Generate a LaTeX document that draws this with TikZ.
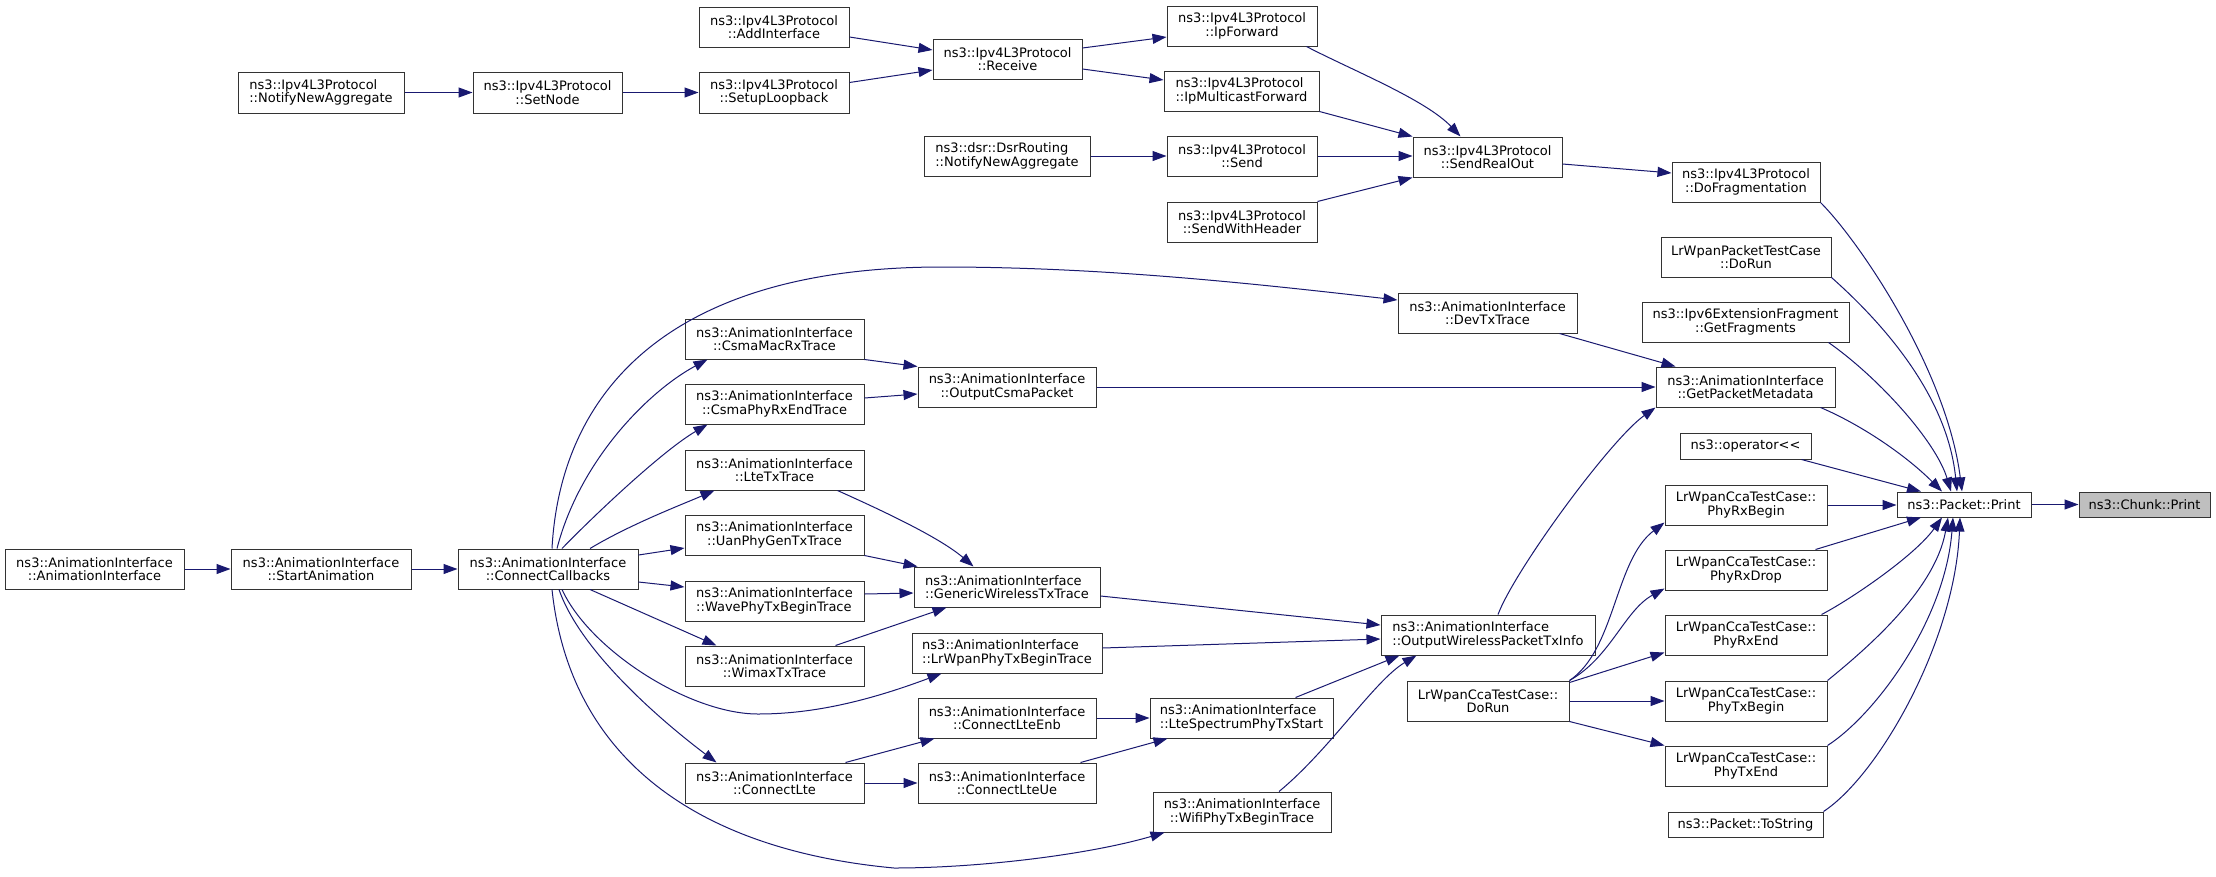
\documentclass[tikz,border=0pt]{standalone}
\usepackage{fontspec}
\setmainfont{DejaVu Sans}
\usetikzlibrary{arrows.meta}
\definecolor{edgecol}{HTML}{191970}
\definecolor{rootfill}{HTML}{BFBFBF}
\definecolor{boxline}{HTML}{333333}
\begin{document}
\begin{tikzpicture}[x=1pt,y=-1pt,
  box/.style={draw=boxline, line width=1pt, fill=white, inner sep=0pt,
    minimum height=40pt, align=center, font=\fontsize{13}{13.4}\selectfont},
  boxl/.style={box, align=left},
  one/.style={box, minimum height=25pt},
  root/.style={one, fill=rootfill},
  edge/.style={draw=edgecol, line width=1pt, -{Triangle[length=14pt,width=10pt]}}]
\useasboundingbox (0,0) rectangle (2216,876);
\fill[white] (0,0) rectangle (2216,876);

% ---------- nodes ----------
\node[boxl, minimum width=166pt, minimum height=41pt] (ipv4nna) at (321,92.5) {ns3::Ipv4L3Protocol\\::NotifyNewAggregate};
\node[box, minimum width=149pt, minimum height=41pt] (setnode) at (547.5,92.5) {ns3::Ipv4L3Protocol\\::SetNode};
\node[box, minimum width=150pt] (addif) at (774,27) {ns3::Ipv4L3Protocol\\::AddInterface};
\node[box, minimum width=150pt, minimum height=41pt] (setuploop) at (774,92.5) {ns3::Ipv4L3Protocol\\::SetupLoopback};
\node[box, minimum width=149pt] (receive) at (1007.5,59) {ns3::Ipv4L3Protocol\\::Receive};
\node[box, minimum width=150pt] (ipfwd) at (1242,26) {ns3::Ipv4L3Protocol\\::IpForward};
\node[boxl, minimum width=155pt] (ipmcast) at (1241.5,91) {ns3::Ipv4L3Protocol\\::IpMulticastForward};
\node[boxl, minimum width=166pt] (dsrnna) at (1007,156) {ns3::dsr::DsrRouting\\::NotifyNewAggregate};
\node[box, minimum width=150pt] (send) at (1242,156) {ns3::Ipv4L3Protocol\\::Send};
\node[box, minimum width=150pt] (sendwh) at (1242,222) {ns3::Ipv4L3Protocol\\::SendWithHeader};
\node[box, minimum width=149pt] (sendrealout) at (1487.5,157) {ns3::Ipv4L3Protocol\\::SendRealOut};
\node[box, minimum width=148pt] (dofrag) at (1746,182) {ns3::Ipv4L3Protocol\\::DoFragmentation};
\node[box, minimum width=170pt] (lrwpanpkt) at (1746,257) {LrWpanPacketTestCase\\::DoRun};
\node[box, minimum width=207pt] (ipv6frag) at (1745.5,322) {ns3::Ipv6ExtensionFragment\\::GetFragments};
\node[box, minimum width=179pt] (getpkt) at (1745.5,387) {ns3::AnimationInterface\\::GetPacketMetadata};
\node[one, minimum width=131pt, minimum height=26pt] (opshift) at (1745.5,446) {ns3::operator<{}<};
\node[box, minimum width=162pt] (phyrxbegin) at (1746,505) {LrWpanCcaTestCase::\\PhyRxBegin};
\node[box, minimum width=162pt] (phyrxdrop) at (1746,570) {LrWpanCcaTestCase::\\PhyRxDrop};
\node[box, minimum width=162pt] (phyrxend) at (1746,635) {LrWpanCcaTestCase::\\PhyRxEnd};
\node[box, minimum width=162pt] (phytxbegin) at (1746,701) {LrWpanCcaTestCase::\\PhyTxBegin};
\node[box, minimum width=162pt] (phytxend) at (1746,766) {LrWpanCcaTestCase::\\PhyTxEnd};
\node[one, minimum width=155pt] (tostring) at (1745.5,824.5) {ns3::Packet::ToString};
\node[one, minimum width=134pt] (pktprint) at (1964,504.5) {ns3::Packet::Print};
\node[root, minimum width=131pt] (chunkprint) at (2144.5,504.5) {ns3::Chunk::Print};
\node[box, minimum width=179pt] (devtx) at (1487.5,313) {ns3::AnimationInterface\\::DevTxTrace};
\node[boxl, minimum width=214pt] (outwifi) at (1488,635) {ns3::AnimationInterface\\::OutputWirelessPacketTxInfo};
\node[box, minimum width=162pt] (ccadorun) at (1488,701) {LrWpanCcaTestCase::\\DoRun};
\node[boxl, minimum width=183pt] (ltespec) at (1241.5,718) {ns3::AnimationInterface\\::LteSpectrumPhyTxStart};
\node[box, minimum width=178pt] (wifiphy) at (1242,812) {ns3::AnimationInterface\\::WifiPhyTxBeginTrace};
\node[box, minimum width=178pt] (outcsma) at (1007,387) {ns3::AnimationInterface\\::OutputCsmaPacket};
\node[boxl, minimum width=186pt] (generic) at (1007,587) {ns3::AnimationInterface\\::GenericWirelessTxTrace};
\node[boxl, minimum width=190pt] (lrwpanphy) at (1007,653) {ns3::AnimationInterface\\::LrWpanPhyTxBeginTrace};
\node[box, minimum width=178pt] (ltenb) at (1007,718) {ns3::AnimationInterface\\::ConnectLteEnb};
\node[box, minimum width=178pt] (lteue) at (1007,783) {ns3::AnimationInterface\\::ConnectLteUe};
\node[box, minimum width=179pt] (csmamac) at (774.5,339) {ns3::AnimationInterface\\::CsmaMacRxTrace};
\node[box, minimum width=179pt] (csmaphy) at (774.5,404) {ns3::AnimationInterface\\::CsmaPhyRxEndTrace};
\node[box, minimum width=179pt] (ltetx) at (774.5,470) {ns3::AnimationInterface\\::LteTxTrace};
\node[box, minimum width=179pt] (uan) at (774.5,535) {ns3::AnimationInterface\\::UanPhyGenTxTrace};
\node[boxl, minimum width=179pt] (wave) at (774.5,601) {ns3::AnimationInterface\\::WavePhyTxBeginTrace};
\node[box, minimum width=179pt] (wimax) at (774.5,666) {ns3::AnimationInterface\\::WimaxTxTrace};
\node[box, minimum width=179pt] (connectlte) at (774.5,783) {ns3::AnimationInterface\\::ConnectLte};
\node[box, minimum width=180pt] (connectcb) at (548,569) {ns3::AnimationInterface\\::ConnectCallbacks};
\node[box, minimum width=180pt] (startanim) at (321,569) {ns3::AnimationInterface\\::StartAnimation};
\node[box, minimum width=179pt] (animif) at (94.5,569) {ns3::AnimationInterface\\::AnimationInterface};

% ---------- edges: Ipv4 part ----------
\draw[edge] (ipv4nna) -- (setnode);
\draw[edge] (setnode) -- (setuploop);
\draw[edge] ([yshift=-10pt]addif.east) -- ([yshift=9pt]receive.west);
\draw[edge] ([yshift=10pt]setuploop.east) -- ([yshift=-11pt]receive.west);
\draw[edge] ([yshift=11pt]receive.east) -- ([yshift=-11pt]ipfwd.west);
\draw[edge] ([yshift=-10pt]receive.east) -- ([yshift=11pt]ipmcast.west);
\draw[edge] ([xshift=-11pt]ipfwd.south east) .. controls +(44,23) and +(-35,-37) .. ([xshift=-27pt]sendrealout.north);
\draw[edge] (ipmcast.south east) -- (sendrealout.north west);
\draw[edge] (dsrnna) -- (send);
\draw[edge] (send.east) -- (send.east -| sendrealout.west);
\draw[edge] (sendwh.north east) -- (sendrealout.south west);
\draw[edge] ([yshift=-7pt]sendrealout.east) -- ([yshift=9pt]dofrag.west);

% ---------- edges into Packet::Print ----------
\draw[edge] (dofrag.south east) .. controls +(40,40) and +(-15,-120) .. ([xshift=-2pt]pktprint.north);
\draw[edge] (lrwpanpkt.south east) .. controls +(45,40) and +(-10,-100) .. ([xshift=-7pt]pktprint.north);
\draw[edge] ([xshift=-21pt]ipv6frag.south east) .. controls +(50,35) and +(-15,-50) .. ([xshift=-13pt]pktprint.north);
\draw[edge] ([xshift=-15pt]getpkt.south east) .. controls +(40,17) and +(-37,-37) .. ([xshift=-22pt]pktprint.north);
\draw[edge] ([xshift=-10pt]opshift.south east) -- ([xshift=-43pt]pktprint.north);
\draw[edge] (phyrxbegin.east) -- (phyrxbegin.east -| pktprint.west);
\draw[edge] ([xshift=-12pt]phyrxdrop.north east) -- ([xshift=-43pt]pktprint.south);
\draw[edge] ([xshift=-6pt]phyrxend.north east) .. controls +(29,-15) and +(-27,38) .. ([xshift=-22pt]pktprint.south);
\draw[edge] (phytxbegin.north east) .. controls +(38,-31) and +(-13,73) .. ([xshift=-16pt]pktprint.south);
\draw[edge] (phytxend.north east) .. controls +(48,-31) and +(-8,103) .. ([xshift=-11pt]pktprint.south);
\draw[edge] (tostring.north east) .. controls +(56,-37) and +(-5,123) .. ([xshift=-4pt]pktprint.south);
\draw[edge] (pktprint) -- (chunkprint);

% ---------- edges into GetPacketMetadata ----------
\draw[edge] ([xshift=-18pt]devtx.south east) -- ([xshift=20pt]getpkt.north west);
\draw[edge] (outcsma) -- (getpkt);
\draw[edge] ([xshift=10pt]outwifi.north) .. controls +(17,-45) and +(-45,32) .. (getpkt.south west);

% ---------- LrWpanCcaTestCase::DoRun ----------
\draw[edge] (ccadorun.north east) .. controls +(46,-31) and +(-50,38) .. ([yshift=3pt]phyrxbegin.south west);
\draw[edge] (ccadorun.north east) .. controls +(41,-23) and +(-40,22) .. ([yshift=2pt]phyrxdrop.south west);
\draw[edge] ([yshift=-2pt]ccadorun.north east) -- ([yshift=3pt]phyrxend.south west);
\draw[edge] (ccadorun) -- (phytxbegin);
\draw[edge] (ccadorun.south east) -- (phytxend.north west);

% ---------- Animation part ----------
\draw[edge] (animif) -- (startanim);
\draw[edge] (startanim) -- (connectcb);
\draw[edge] ([xshift=4pt]connectcb.north) .. controls +(8,-149) and +(-282,0) .. (942,267)
  .. controls +(158,0) and +(-148,-17) .. ([yshift=13pt]devtx.west);
\draw[edge] ([xshift=9pt]connectcb.north) .. controls +(23,-89) and +(-58,31) .. ([xshift=23pt]csmamac.south west);
\draw[edge] ([xshift=14pt]connectcb.north) .. controls +(38,-39) and +(-43,25) .. ([xshift=23pt]csmaphy.south west);
\draw[edge] ([xshift=42pt]connectcb.north) .. controls +(40,-24) and +(-35,15) .. ([xshift=30pt]ltetx.south west);
\draw[edge] ([yshift=14pt]connectcb.east) -- ([yshift=-13pt]uan.west);
\draw[edge] ([yshift=-13pt]connectcb.east) -- ([yshift=14pt]wave.west);
\draw[edge] ([xshift=42pt]connectcb.south) -- ([xshift=32pt]wimax.north west);
\draw[edge] ([xshift=14pt]connectcb.south) .. controls +(28,61) and +(-68,0) .. (758,714)
  .. controls +(50,0) and +(-80,30) .. ([xshift=30pt]lrwpanphy.south west);
\draw[edge] ([xshift=11pt]connectcb.south) .. controls +(21,61) and +(-57,-43) .. ([xshift=32pt]connectlte.north west);
\draw[edge] ([xshift=4pt]connectcb.south) .. controls +(18,171) and +(-194,-18) .. (894,868)
  .. controls +(86,0) and +(-75,22) .. ([xshift=12pt]wifiphy.south west);

\draw[edge] (csmamac.south east) -- (outcsma.north west);
\draw[edge] ([yshift=6pt]csmaphy.east) -- ([yshift=-7pt]outcsma.west);
\draw[edge] ([xshift=-27pt]ltetx.south east) .. controls +(40,18) and +(-35,-30) .. ([xshift=60pt]generic.north west);
\draw[edge] (uan.south east) -- ([xshift=4pt]generic.north west);
\draw[edge] ([yshift=7pt]wave.east) -- ([yshift=-6pt]generic.west);
\draw[edge] ([xshift=-29pt]wimax.north east) -- ([xshift=33pt]generic.south west);
\draw[edge] ([yshift=-9pt]generic.east) -- ([yshift=10pt]outwifi.west);
\draw[edge] ([yshift=5pt]lrwpanphy.east) -- ([yshift=-4pt]outwifi.west);
\draw[edge] ([xshift=54pt]ltespec.north) -- ([xshift=19pt]outwifi.south west);
\draw[edge] ([xshift=37pt]wifiphy.north) .. controls +(51,-42) and +(-42,25) .. ([xshift=36pt]outwifi.south west);
\draw[edge] (ltenb) -- (ltespec);
\draw[edge] ([xshift=-16pt]lteue.north east) -- ([xshift=18pt]ltespec.south west);
\draw[edge] ([xshift=-19pt]connectlte.north east) -- ([xshift=17pt]ltenb.south west);
\draw[edge] (connectlte) -- (lteue);
\end{tikzpicture}
\end{document}
